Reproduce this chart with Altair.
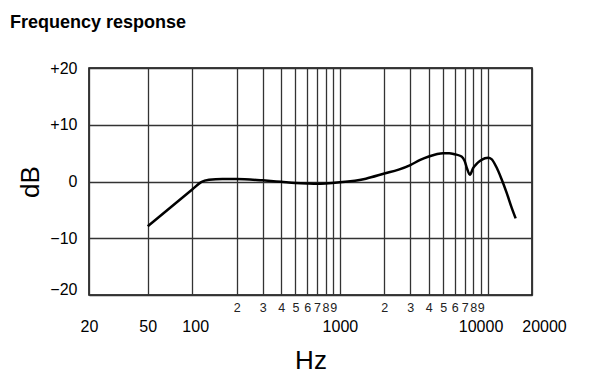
import altair as alt
import pandas as pd

freq = [50, 100, 115, 130, 160, 200, 300, 400, 500, 600, 700, 800, 1000, 1500,
        2000, 2500, 3000, 3500, 4000, 4500, 5000, 5500, 6000, 6670, 7000, 7280,
        7590, 8000, 8430, 8870, 9600, 10100, 10640, 11500, 12450, 13460, 14560, 15500]
db = [-7.9, -1.4, -0.1, 0.3, 0.45, 0.45, 0.2, -0.05, -0.25, -0.35, -0.4, -0.35, -0.15, 0.5,
      1.4, 2.1, 2.9, 3.8, 4.4, 4.8, 5.0, 5.0, 4.8, 4.4, 3.6, 2.2,
      1.2, 2.4, 3.1, 3.6, 4.1, 4.2, 3.95, 2.5, 0.4, -1.95, -4.6, -6.5]

minor_ticks = [200, 300, 400, 500, 600, 700, 800, 900,
               2000, 3000, 4000, 5000, 6000, 7000, 8000, 9000]
major_ticks = [20, 50, 100, 1000, 10000, 20000]
y_ticks = [-20, -15, -10, -5, 0, 5, 10, 15, 20]

df = pd.DataFrame({"f": freq, "db": db})

FONT = "Liberation Sans"
GRID = "#333333"

xscale = alt.Scale(type="log", domain=[20, 20000], nice=False)
yscale = alt.Scale(domain=[-20, 20], nice=False)

yaxis = alt.Axis(
    values=y_ticks, grid=True, gridColor=GRID, gridWidth=1.3, domain=False, ticks=False,
    labelExpr="datum.value % 10 != 0 ? '' : datum.value > 0 ? '+' + datum.value : "
              "datum.value < 0 ? '\u2212' + abs(datum.value) : '0'",
    labelFont=FONT, labelFontSize=16, labelColor="black", labelPadding=12,
    labelOverlap=False,
    labelOffset={"condition": {"test": "datum.value == -20", "value": -6}, "value": 0},
    title="dB", titleFont=FONT, titleFontSize=26, titleFontWeight="normal",
    titleColor="black", titlePadding=6,
)

line = alt.Chart(df).mark_line(color="black", strokeWidth=2.5, interpolate="monotone").encode(
    x=alt.X("f:Q", scale=xscale, axis=alt.Axis(
        values=minor_ticks, orient="bottom", grid=True, gridColor=GRID, gridWidth=1.3,
        domain=False, ticks=False,
        labelExpr="'' + round(datum.value / pow(10, floor(log(datum.value) / LN10 + 1e-9)))",
        labelFont=FONT, labelFontSize=12.5, labelColor="#222", labelPadding=6,
        labelOverlap=False, labelFlush=False, title=None)),
    y=alt.Y("db:Q", scale=yscale, axis=yaxis),
)

major = alt.Chart(df).mark_line(opacity=0).encode(
    x=alt.X("f:Q", scale=xscale, axis=alt.Axis(
        values=major_ticks, orient="bottom", grid=True, gridColor=GRID, gridWidth=1.3,
        domain=False, ticks=False, format="d",
        labelFont=FONT, labelFontSize=16, labelColor="black", labelPadding=23,
        labelOverlap=False, labelFlush=False,
        labelOffset={"condition": [{"test": "datum.value == 20000", "value": 12},
                                   {"test": "datum.value == 10000", "value": -7},
                                   {"test": "datum.value == 100", "value": 3}],
                     "value": 0},
        title="Hz", titleFont=FONT, titleFontSize=26, titleFontWeight="normal",
        titleColor="black", titlePadding=13)),
    y=alt.Y("db:Q", scale=yscale),
)

chart = alt.layer(major, line).resolve_axis(x="independent").properties(
    width=443, height=227,
    autosize=alt.AutoSizeParams(type="none"),
    padding={"left": 81, "top": 60, "right": 53, "bottom": 88},
    background="white",
    title=alt.TitleParams(
        "Frequency response", anchor="start", frame="group", dx=-79, offset=28,
        font=FONT, fontSize=18, fontWeight="bold", color="black"),
).configure_view(stroke="black", strokeWidth=1.5)

chart.save("out.html", embed_options={"renderer": "svg", "actions": False})
